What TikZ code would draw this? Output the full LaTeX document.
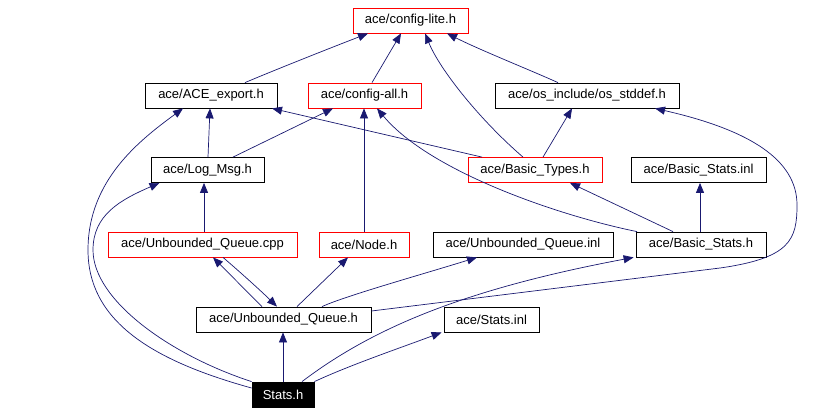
\documentclass[tikz,border=0pt]{standalone}
\usepackage{fontspec}
\setmainfont{Liberation Sans}
\usetikzlibrary{arrows.meta}
\definecolor{edgeblue}{RGB}{25,25,112}
\begin{document}
\begin{tikzpicture}[x=1pt,y=-1pt,
  box/.style={draw=black,line width=0.8pt,minimum height=25pt,inner sep=0pt,font=\fontsize{13}{15}\selectfont,fill=white},
  redbox/.style={box,draw=red},
  dep/.style={draw=edgeblue,line width=0.7pt,-{Triangle[length=10pt,width=8pt]}}]
\useasboundingbox (0,0) rectangle (821,413);
% nodes
\node[redbox,minimum width=115pt] (cl) at (410.5,20.5) {ace/config-lite.h};
\node[box,minimum width=132pt] (ace) at (211,95.5) {ace/ACE\_export.h};
\node[redbox,minimum width=113pt] (call) at (364.5,95.5) {ace/config-all.h};
\node[box,minimum width=184pt] (osd) at (587,95.5) {ace/os\_include/os\_stddef.h};
\node[box,minimum width=113pt] (log) at (207.5,170) {ace/Log\_Msg.h};
\node[redbox,minimum width=134pt] (bt) at (535,170) {ace/Basic\_Types.h};
\node[box,minimum width=135pt] (bsi) at (698.5,170) {ace/Basic\_Stats.inl};
\node[redbox,minimum width=189pt] (uqc) at (202.5,244.5) {ace/Unbounded\_Queue.cpp};
\node[redbox,minimum width=90pt] (nd) at (364,244.5) {ace/Node.h};
\node[box,minimum width=180pt] (uqi) at (523,244.5) {ace/Unbounded\_Queue.inl};
\node[box,minimum width=130pt] (bsh) at (701,244.5) {ace/Basic\_Stats.h};
\node[box,minimum width=175pt] (uqh) at (283.5,319.5) {ace/Unbounded\_Queue.h};
\node[box,minimum width=95pt] (si) at (491.5,319.5) {ace/Stats.inl};
\node[box,minimum width=62pt,fill=black,text=white] (st) at (283,394.5) {Stats.h};
% edges
\draw[dep] ([xshift=34pt]ace.north) .. controls (270,72) and (320,52) .. ([xshift=-42.5pt]cl.south);
\draw[dep] ([xshift=7.5pt]call.north) -- ([xshift=-9.5pt]cl.south);
\draw[dep] ([xshift=-12pt]bt.north) .. controls (480,120) and (440,70) .. ([xshift=14.5pt]cl.south);
\draw[dep] ([xshift=-29pt]osd.north) .. controls (530,70) and (480,50) .. ([xshift=36.5pt]cl.south);
\draw[dep] ([xshift=0.5pt]log.north) -- ([xshift=-1pt]ace.south);
\draw[dep] ([xshift=25.5pt]log.north) -- ([xshift=-31.5pt]call.south);
\draw[dep] ([xshift=-53pt]bt.north) -- ([xshift=61pt]ace.south);
\draw[dep] (nd.north) -- (nd.north |- call.south);
\draw[dep] ([xshift=-64pt]bsh.north) .. controls (560,216) and (430,172) .. ([xshift=12.5pt]call.south);
\draw[dep] ([xshift=8pt]bt.north) -- ([xshift=-15pt]osd.south);
\draw[dep] ([xshift=-28pt]bsh.north) -- ([xshift=35pt]bt.south);
\draw[dep] ([xshift=-1pt]bsh.north) -- ([xshift=1.5pt]bsi.south);
\draw[dep] ([xshift=1.5pt]uqc.north) -- ([xshift=-3.5pt]log.south);
\draw[dep] ([xshift=-21.5pt]uqh.north) -- ([xshift=10.5pt]uqc.south);
\draw[dep] ([xshift=20.5pt]uqc.south) .. controls (240,272) and (260,290) .. ([xshift=-6.5pt]uqh.north);
\draw[dep] ([xshift=13.5pt]uqh.north) -- ([xshift=-16pt]nd.south);
\draw[dep] ([xshift=38.5pt]uqh.north) .. controls (345,296) and (420,275) .. ([xshift=-46pt]uqi.south);
\draw[dep] ([yshift=8.5pt]uqh.east) -- (720,268) .. controls (790,258) and (797,240) .. (797,205) .. controls (797,160) and (750,130) .. ([xshift=68pt]osd.south);
\draw[dep] (st.north) -- (st.north |- uqh.south);
\draw[dep] (st.north east) .. controls (350,365) and (400,348) .. ([xshift=-2pt]si.south west);
\draw[dep] ([xshift=19pt]st.north) .. controls (370,330) and (460,290) .. ([xshift=-2pt]bsh.south west);
\draw[dep] ([yshift=6.5pt]st.west) .. controls (150,360) and (88,320) .. (88,250) .. controls (88,180) and (140,140) .. ([xshift=-28pt]ace.south);
\draw[dep] (st.north west) .. controls (170,355) and (93,300) .. (93,250) .. controls (93,215) and (120,200) .. ([xshift=-48pt]log.south);
\end{tikzpicture}
\end{document}
